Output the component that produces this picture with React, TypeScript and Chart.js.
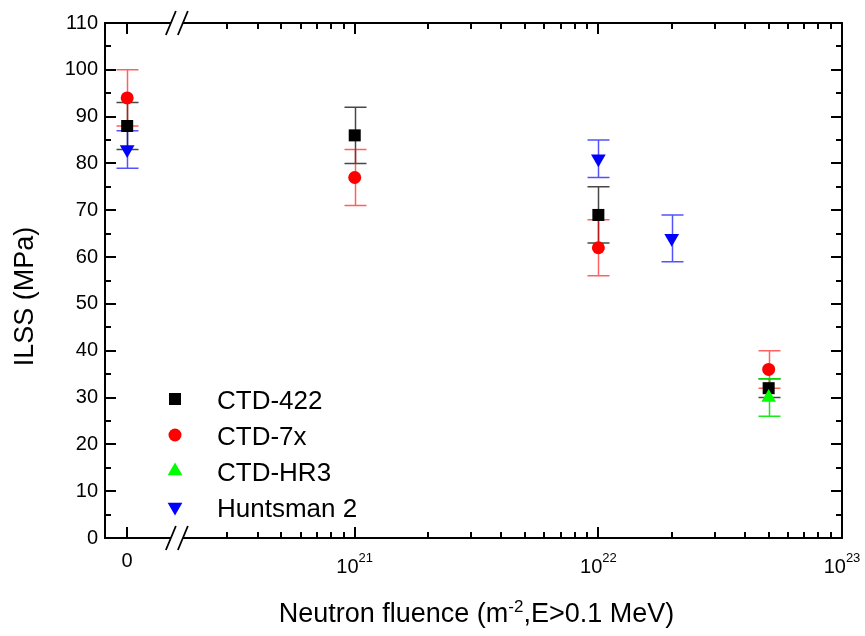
import React, { useEffect, useRef } from 'react';
import { Chart, registerables } from 'chart.js';

Chart.register(...registerables);

// ---------------- data ----------------
const SERIES_NAMES = ['CTD-422', 'CTD-7x', 'CTD-HR3', 'Huntsman 2'];

const CTD422_FLUENCE = [0, 1e21, 1e22, 5e22];
const CTD422_ILSS = [88, 86, 69, 32];
const CTD422_ERR = [5, 6, 6, 2];

const CTD7X_FLUENCE = [0, 1e21, 1e22, 5e22];
const CTD7X_ILSS = [94, 77, 62, 36];
const CTD7X_ERR = [6, 6, 6, 4];

const HR3_FLUENCE = [5e22];
const HR3_ILSS = [30];
const HR3_ERR = [4];

const HUNTSMAN_FLUENCE = [0, 1e22, 2e22];
const HUNTSMAN_ILSS = [83, 81, 64];
const HUNTSMAN_ERR = [4, 4, 5];

const X_TICK_VALUES = [0, 1e21, 1e22, 1e23];
const X_TICK_BASE = ['0', '10', '10', '10'];
const X_TICK_EXP = ['', '21', '22', '23'];

const Y_MIN = 0;
const Y_MAX = 110;
const Y_STEP = 10;
const Y_MINOR_STEP = 5;

const Y_TITLE = 'ILSS (MPa)';
const X_TITLE_PARTS = ['Neutron fluence (m', '-2', ',E>0.1 MeV)'];

// broken x axis: decades of log10(fluence); zero sits left of the break
const X_AXIS_MIN = 19.975;
const X_AXIS_MAX = 23.0;
const ZERO_POS = 20.066;
const BREAK_POS = 20.27;

const toAxis = (f: number) => (f === 0 ? ZERO_POS : Math.log10(f));

// ---------------- styles ----------------
const FONT = '"Liberation Sans", Arial, Helvetica, sans-serif';
const COLORS = ['#000000', '#ff0000', '#00ff00', '#0000ff'];
const BAR_COLORS = ['rgba(0,0,0,0.72)', 'rgba(255,0,0,0.62)', 'rgba(0,230,0,0.9)', 'rgba(0,0,255,0.68)'];
const STYLES = ['rect', 'circle', 'triangle', 'triangle'];
const ROTATIONS = [0, 0, 0, 180];
const RADII = [8.5, 6.5, 8.5, 8.5];
const ORDERS = [4, 3, 2, 1];

function drawMarker(ctx: CanvasRenderingContext2D, style: string, rot: number, x: number, y: number, r: number) {
  ctx.beginPath();
  if (style === 'rect') {
    const s = Math.SQRT1_2 * r;
    ctx.rect(x - s, y - s, 2 * s, 2 * s);
  } else if (style === 'circle') {
    ctx.arc(x, y, r, 0, Math.PI * 2);
  } else {
    let rad = (rot * Math.PI) / 180;
    for (let k = 0; k < 3; k++) {
      const px = x + Math.sin(rad) * r;
      const py = y - Math.cos(rad) * r;
      if (k === 0) ctx.moveTo(px, py);
      else ctx.lineTo(px, py);
      rad += (2 * Math.PI) / 3;
    }
    ctx.closePath();
  }
  ctx.fill();
}

const brokenAxisPlugin = {
  id: 'brokenAxis',
  beforeDatasetsDraw(chart: any) {
    const { ctx } = chart;
    const x = chart.scales.x;
    const y = chart.scales.y;
    const CAP = 11;
    ctx.save();
    chart.data.datasets.forEach((ds: any) => {
      ctx.strokeStyle = ds.errorColor;
      ctx.lineWidth = 1.5;
      ds.data.forEach((p: any, i: number) => {
        const px = Math.round(x.getPixelForValue(p.x)) + 0.5;
        const top = y.getPixelForValue(p.y + ds.errors[i]);
        const bot = y.getPixelForValue(p.y - ds.errors[i]);
        ctx.beginPath();
        ctx.moveTo(px, top);
        ctx.lineTo(px, bot);
        ctx.moveTo(px - CAP, top);
        ctx.lineTo(px + CAP, top);
        ctx.moveTo(px - CAP, bot);
        ctx.lineTo(px + CAP, bot);
        ctx.stroke();
      });
    });
    ctx.restore();
  },
  afterDraw(chart: any) {
    const { ctx, chartArea } = chart;
    const x = chart.scales.x;
    const y = chart.scales.y;
    const { left, right, top, bottom } = chartArea;
    ctx.save();
    ctx.strokeStyle = '#000';
    ctx.fillStyle = '#000';
    ctx.lineWidth = 2;
    ctx.lineCap = 'butt';

    // frame
    ctx.strokeRect(left, top, right - left, bottom - top);

    // y ticks (left & right, inward)
    for (let v = Y_MIN; v <= Y_MAX + 1e-9; v += Y_MINOR_STEP) {
      const py = Math.round(y.getPixelForValue(v));
      const len = v % Y_STEP === 0 ? 11 : 6;
      ctx.beginPath();
      ctx.moveTo(left, py);
      ctx.lineTo(left + len, py);
      ctx.moveTo(right, py);
      ctx.lineTo(right - len, py);
      ctx.stroke();
    }

    // x ticks (bottom & top, inward)
    const drawXTick = (u: number, len: number) => {
      const px = Math.round(x.getPixelForValue(u));
      ctx.beginPath();
      ctx.moveTo(px, bottom);
      ctx.lineTo(px, bottom - len);
      ctx.moveTo(px, top);
      ctx.lineTo(px, top + len);
      ctx.stroke();
    };
    X_TICK_VALUES.forEach((f) => drawXTick(toAxis(f), 11));
    const breakPx = x.getPixelForValue(BREAK_POS);
    for (let n = 20; n <= 22; n++) {
      for (let k = 2; k <= 9; k++) {
        const u = Math.log10(k) + n;
        if (x.getPixelForValue(u) > breakPx + 9 && u < X_AXIS_MAX) drawXTick(u, 6);
      }
    }

    // axis break marks
    [top, bottom].forEach((ay) => {
      const g = 6;
      ctx.fillStyle = '#fff';
      ctx.beginPath();
      ctx.moveTo(breakPx - g - 5, ay + 4);
      ctx.lineTo(breakPx - g + 5, ay - 4);
      ctx.lineTo(breakPx + g + 5, ay - 4);
      ctx.lineTo(breakPx + g - 5, ay + 4);
      ctx.closePath();
      ctx.fill();
      ctx.strokeStyle = '#000';
      ctx.lineWidth = 1.8;
      ctx.beginPath();
      ctx.moveTo(breakPx - g - 5, ay + 12);
      ctx.lineTo(breakPx - g + 5, ay - 12);
      ctx.moveTo(breakPx + g - 5, ay + 12);
      ctx.lineTo(breakPx + g + 5, ay - 12);
      ctx.stroke();
    });

    // x tick labels
    ctx.fillStyle = '#000';
    ctx.textBaseline = 'alphabetic';
    X_TICK_VALUES.forEach((f, i) => {
      const px = x.getPixelForValue(toAxis(f));
      const base = X_TICK_BASE[i];
      const exp = X_TICK_EXP[i];
      if (!exp) {
        ctx.font = `20px ${FONT}`;
        ctx.textAlign = 'center';
        ctx.fillText(base, px, bottom + 29);
      } else {
        ctx.font = `20px ${FONT}`;
        const w1 = ctx.measureText(base).width;
        ctx.font = `13px ${FONT}`;
        const w2 = ctx.measureText(exp).width;
        const start = px - (w1 + w2) / 2;
        ctx.textAlign = 'left';
        ctx.font = `20px ${FONT}`;
        ctx.fillText(base, start, bottom + 35);
        ctx.font = `13px ${FONT}`;
        ctx.fillText(exp, start + w1, bottom + 24);
      }
    });

    // x title
    {
      const mainFont = `27px ${FONT}`;
      const supFont = `17px ${FONT}`;
      ctx.font = mainFont;
      const w0 = ctx.measureText(X_TITLE_PARTS[0]).width;
      const w2 = ctx.measureText(X_TITLE_PARTS[2]).width;
      ctx.font = supFont;
      const w1 = ctx.measureText(X_TITLE_PARTS[1]).width;
      const total = w0 + w1 + w2;
      const cx = (left + right) / 2 + 3;
      const base = bottom + 84;
      let sx = cx - total / 2;
      ctx.textAlign = 'left';
      ctx.font = mainFont;
      ctx.fillText(X_TITLE_PARTS[0], sx, base);
      sx += w0;
      ctx.font = supFont;
      ctx.fillText(X_TITLE_PARTS[1], sx, base - 10);
      sx += w1;
      ctx.font = mainFont;
      ctx.fillText(X_TITLE_PARTS[2], sx, base);
    }

    // y title
    ctx.save();
    ctx.translate(left - 72, (top + bottom) / 2 + 16);
    ctx.rotate(-Math.PI / 2);
    ctx.font = `27px ${FONT}`;
    ctx.textAlign = 'center';
    ctx.textBaseline = 'alphabetic';
    ctx.fillText(Y_TITLE, 0, 0);
    ctx.restore();

    // legend
    const lx = left + 70;
    const ly = top + 376;
    chart.data.datasets.forEach((ds: any, i: number) => {
      const ry = ly + i * 36;
      ctx.fillStyle = ds.backgroundColor;
      drawMarker(ctx, ds.pointStyle, ds.pointRotation, lx, ry, ds.pointRadius);
      ctx.fillStyle = '#000';
      ctx.font = `26px ${FONT}`;
      ctx.textAlign = 'left';
      ctx.textBaseline = 'alphabetic';
      ctx.fillText(ds.label, lx + 42, ry + 9.5);
    });

    ctx.restore();
  },
};

const SOURCES = [
  [CTD422_FLUENCE, CTD422_ILSS, CTD422_ERR],
  [CTD7X_FLUENCE, CTD7X_ILSS, CTD7X_ERR],
  [HR3_FLUENCE, HR3_ILSS, HR3_ERR],
  [HUNTSMAN_FLUENCE, HUNTSMAN_ILSS, HUNTSMAN_ERR],
];

export default function App() {
  const ref = useRef<HTMLCanvasElement>(null);

  useEffect(() => {
    if (!ref.current) return;
    const datasets = SOURCES.map(([fl, val, err], i) => ({
      label: SERIES_NAMES[i],
      data: fl.map((f, j) => ({ x: toAxis(f), y: val[j] })),
      errors: err,
      errorColor: BAR_COLORS[i],
      backgroundColor: COLORS[i],
      borderColor: COLORS[i],
      pointStyle: STYLES[i],
      pointRotation: ROTATIONS[i],
      pointRadius: RADII[i],
      pointBorderWidth: 0,
      showLine: false,
      order: ORDERS[i],
    }));
    const chart = new Chart(ref.current, {
      type: 'scatter',
      data: { datasets: datasets as any },
      plugins: [brokenAxisPlugin as any],
      options: {
        responsive: false,
        animation: false,
        devicePixelRatio: 1,
        layout: { padding: { left: 0, top: 23, right: 23, bottom: 98 } },
        plugins: { legend: { display: false }, tooltip: { enabled: false } },
        scales: {
          x: { type: 'linear', min: X_AXIS_MIN, max: X_AXIS_MAX, display: false },
          y: {
            type: 'linear',
            min: Y_MIN,
            max: Y_MAX,
            ticks: { stepSize: Y_STEP, color: '#000', font: { family: FONT, size: 20 }, padding: 7 },
            grid: { display: false, drawTicks: false },
            border: { display: false },
            afterFit: (s: any) => {
              s.width = 105;
            },
          },
        },
      } as any,
    });
    return () => chart.destroy();
  }, []);

  return (
    <div style={{ position: 'fixed', left: 0, top: 0, width: 865, height: 636, background: '#fff' }}>
      <canvas ref={ref} width={865} height={636} style={{ display: 'block', width: 865, height: 636 }} />
    </div>
  );
}
